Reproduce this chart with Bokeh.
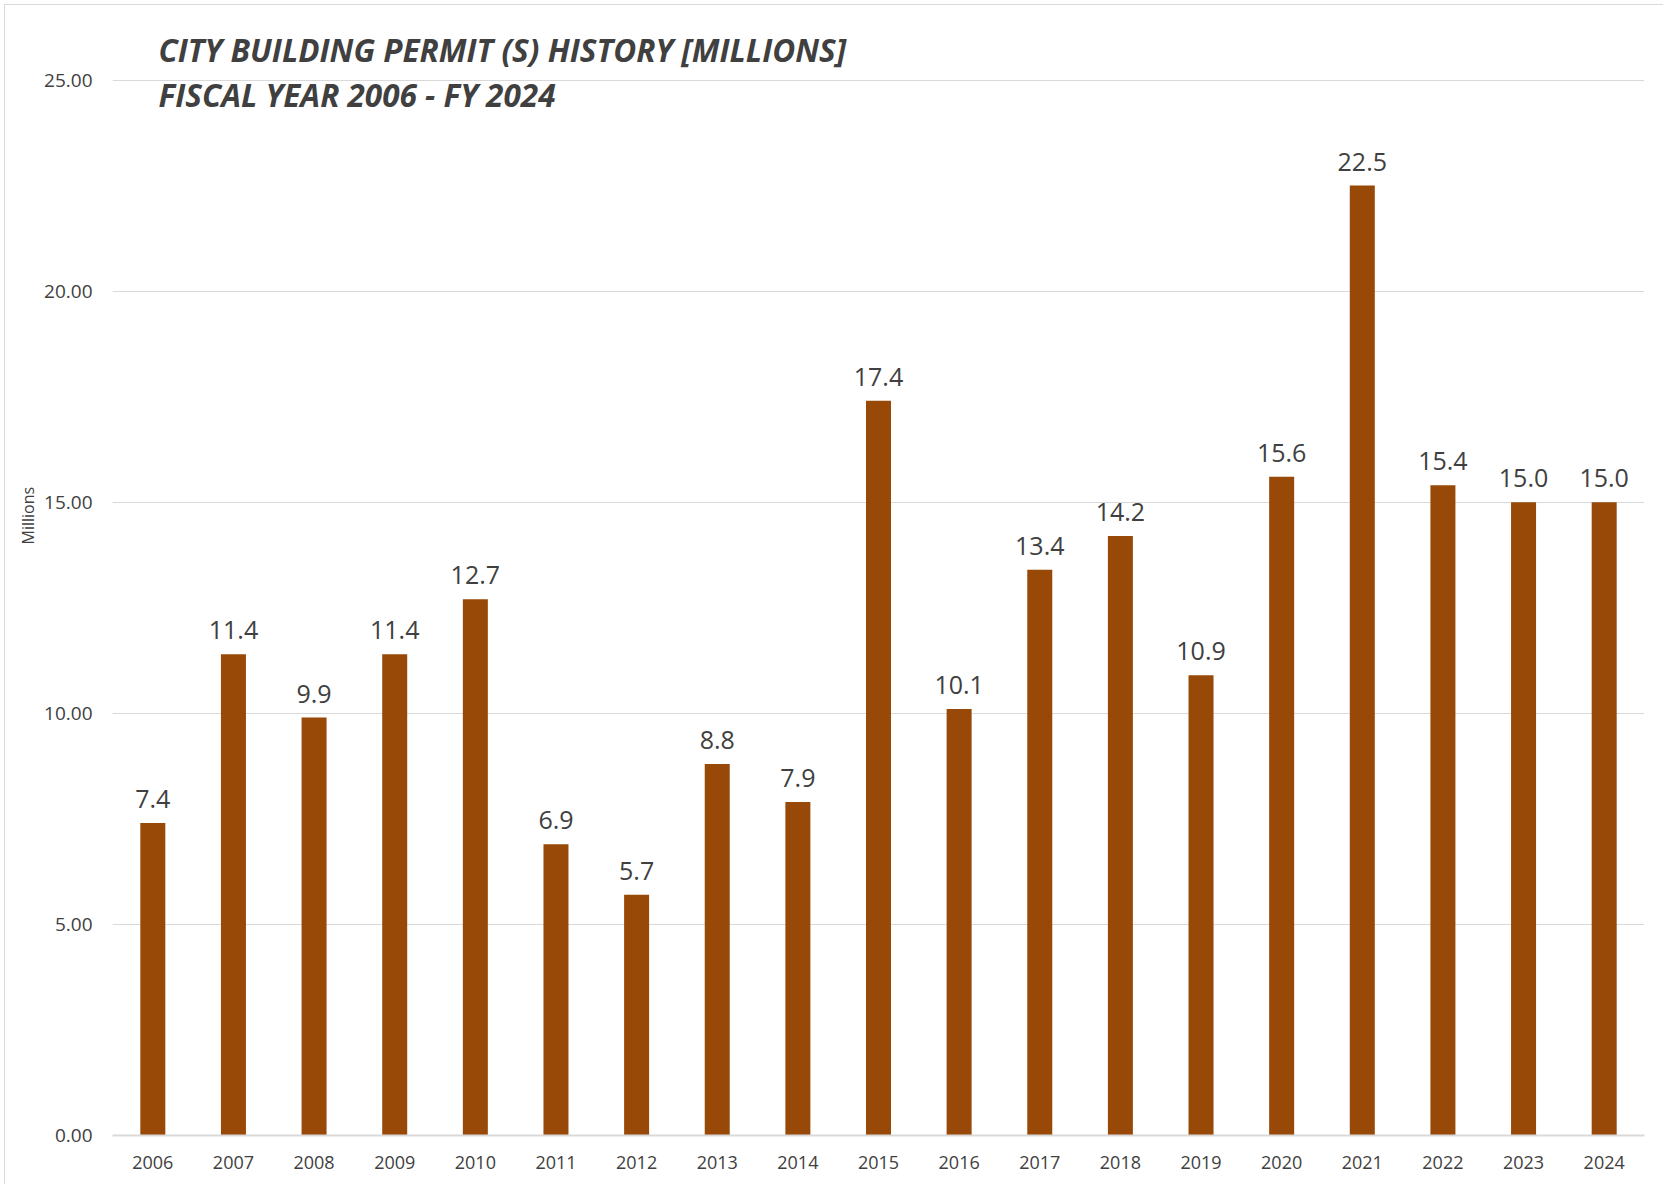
from bokeh.plotting import figure
from bokeh.models import FactorRange, Range1d, FixedTicker, NumeralTickFormatter, Label, ColumnDataSource, Title
from bokeh.core.properties import value
from bokeh.embed import file_html
from bokeh.resources import INLINE

years = ["2006", "2007", "2008", "2009", "2010", "2011", "2012", "2013", "2014", "2015",
         "2016", "2017", "2018", "2019", "2020", "2021", "2022", "2023", "2024"]
permits = [7.4, 11.4, 9.9, 11.4, 12.7, 6.9, 5.7, 8.8, 7.9, 17.4,
           10.1, 13.4, 14.2, 10.9, 15.6, 22.5, 15.4, 15.0, 15.0]
y_ticks = [0, 5, 10, 15, 20, 25]
title_lines = ["CITY BUILDING PERMIT (S) HISTORY [MILLIONS]", "FISCAL YEAR 2006 - FY 2024"]
y_label = "Millions"

BAR = "#984807"
TXT = "#404040"
GRID = "#d9d9d9"
FONT = "Open Sans"

PX_PER_UNIT = (1135 - 79.5) / 25.0
Y_TOP = 25 + 74.5 / PX_PER_UNIT   # extend range so that 25 sits at the reference gridline

src = ColumnDataSource(dict(year=years, val=permits, lab=[f"{v:.1f}" for v in permits]))

p = figure(width=1659, height=1180, output_backend="svg", toolbar_location=None,
           x_range=FactorRange(factors=years, range_padding=0),
           y_range=Range1d(0, Y_TOP),
           min_border_left=107, min_border_right=20, min_border_top=0, min_border_bottom=50)
p.styles = {"border-top": "1px solid #dadada", "border-left": "1px solid #dadada",
            "margin-left": "4px", "margin-top": "4px"}
p.outline_line_color = None
p.background_fill_color = "white"
p.border_fill_color = "white"

p.vbar(x="year", top="val", width=0.31, source=src, fill_color=BAR, line_color=None)
p.text(x="year", y="val", text="lab", source=src, text_align="center", text_baseline="alphabetic",
       y_offset=-24, text_font=value(FONT), text_font_size="25px", text_color=TXT)

p.yaxis.ticker = FixedTicker(ticks=y_ticks)
p.yaxis.formatter = NumeralTickFormatter(format="0.00")
p.ygrid.ticker = FixedTicker(ticks=y_ticks)
p.ygrid.grid_line_color = GRID
p.xgrid.grid_line_color = None
p.yaxis.axis_line_color = None
for ax in (p.xaxis, p.yaxis):
    ax.major_tick_line_color = None
    ax.minor_tick_line_color = None
    ax.major_tick_out = 0
    ax.major_tick_in = 0
    ax.minor_tick_out = 0
    ax.minor_tick_in = 0
    ax.major_label_text_font = FONT
    ax.major_label_text_color = TXT
p.yaxis.major_label_standoff = 20
p.yaxis.major_label_text_font_size = "19px"
p.xaxis.axis_line_color = GRID
p.xaxis.axis_line_width = 2
p.xaxis.major_label_standoff = 20
p.xaxis.major_label_text_font_size = "18px"

t1 = Label(x=0, y=25, x_offset=46, y_offset=31, text=title_lines[0], text_font=FONT,
           text_font_size="31.5px", text_font_style="bold italic", text_color=TXT,
           text_baseline="alphabetic")
t2 = Label(x=0, y=25, x_offset=46, y_offset=-14, text=title_lines[1], text_font=FONT,
           text_font_size="31.5px", text_font_style="bold italic", text_color=TXT,
           text_baseline="alphabetic")
p.add_layout(t1)
p.add_layout(t2)

yl = Title(text=y_label, align="left", offset=591, standoff=6, text_font=FONT,
           text_font_size="16px", text_font_style="normal", text_color=TXT)
p.add_layout(yl, "left")

open("out.html", "w").write(file_html(p, INLINE))
